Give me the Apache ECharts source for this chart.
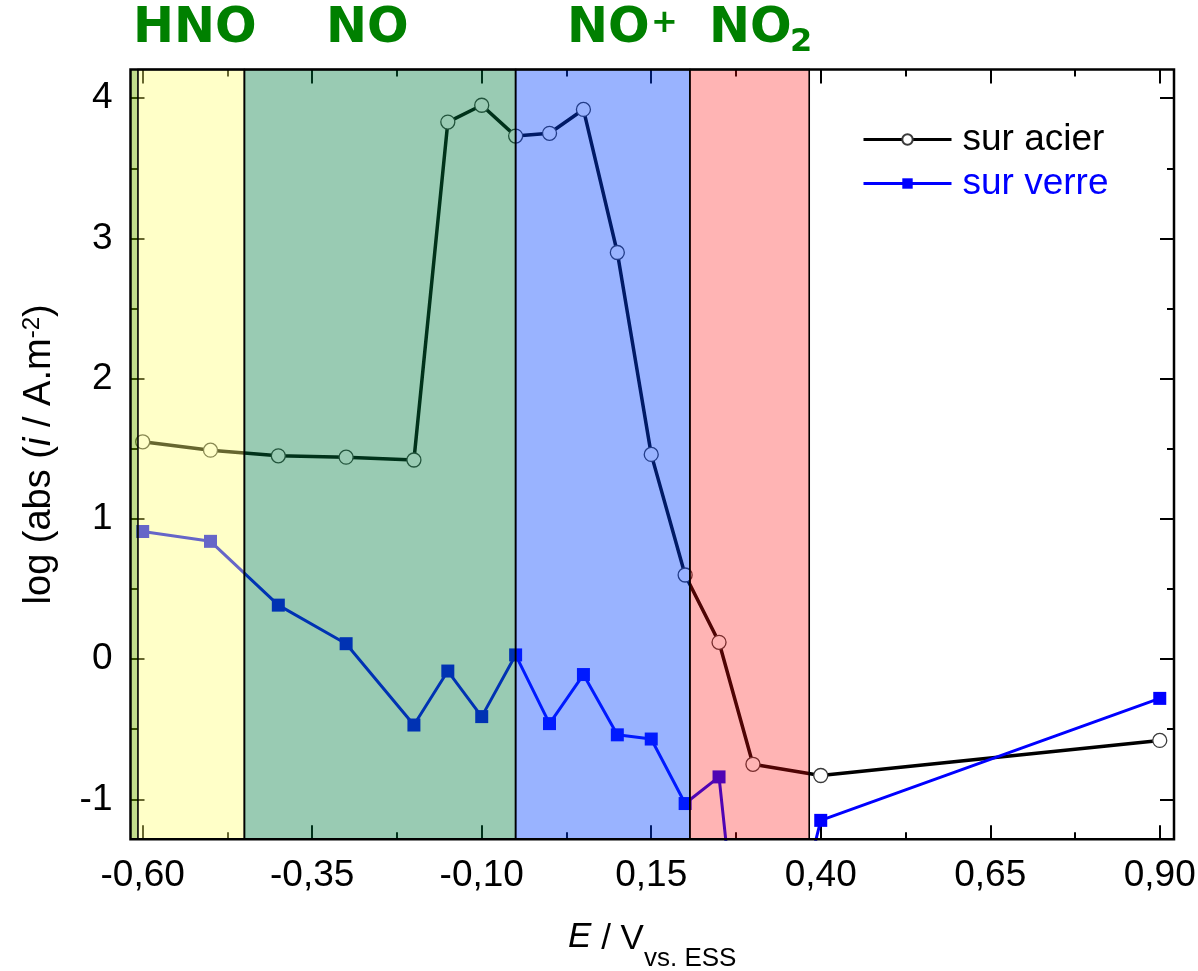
<!DOCTYPE html>
<html><head><meta charset="utf-8">
<script src="https://cdn.jsdelivr.net/npm/echarts@6/dist/echarts.min.js"></script>
<style>html,body{margin:0;padding:0;background:#fff}#c{width:1198px;height:971px}</style>
</head><body><div id="c"></div>
<script>
// ---- data ----
const potentials = [-0.60,-0.50,-0.40,-0.30,-0.20,-0.15,-0.10,-0.05,0.00,0.05,0.10,0.15,0.20,0.25,0.30,0.40,0.90];
const surAcier  = [1.55,1.49,1.45,1.44,1.42,3.83,3.95,3.73,3.75,3.92,2.90,1.46,0.60,0.12,-0.75,-0.83,-0.58];
const surVerre  = [0.91,0.84,0.385,0.11,-0.47,-0.085,-0.41,0.03,-0.46,-0.11,-0.54,-0.57,-1.03,-0.84,-3.1,-1.15,-0.28];
const xTicks = [-0.60,-0.35,-0.10,0.15,0.40,0.65,0.90];
const xMinorTicks = [-0.475,-0.225,0.025,0.275,0.525,0.775];
const yTicks = [-1,0,1,2,3,4];
const yMinorTicks = [-0.5,0.5,1.5,2.5,3.5];
const speciesZones = [[-0.607,-0.45],[-0.45,-0.05],[-0.05,0.207],[0.207,0.383]];
const overlapZone = [-0.618,-0.607];
const speciesText = ['HNO','NO','NO','NO'];
const speciesIndex = ['','','+','2'];
const seriesNames = ['sur acier','sur verre'];

// ---- chart ----
const FONT = '"Liberation Sans", Arial, sans-serif';
const BOLDFONT = '"DejaVu Sans", sans-serif';
const xMin = -0.618, xMax = 0.921, yMin = -1.285, yMax = 4.205;
const fmtX = v => v.toFixed(2).replace('.', ',');

function xAx(pos, ticks, len, withLabels) {
  const a = {
    type:'value', position:pos, min:xMin, max:xMax,
    axisLine:{show:false, onZero:false}, splitLine:{show:false},
    axisTick:{show:true, inside:true, length:len, customValues:ticks, lineStyle:{color:'#000', width:2}},
    axisLabel:{show:false}
  };
  if (withLabels) {
    a.axisLabel = {show:true, customValues:ticks, formatter:fmtX, fontSize:37, fontFamily:FONT, color:'#000', margin:18};
    a.name = '{it|E} / V{sub|vs. ESS}';
    a.nameLocation = 'middle';
    a.nameGap = 80;
    a.nameTextStyle = {fontFamily:FONT, fontSize:35, color:'#000', rich:{
      it:{fontFamily:FONT, fontSize:35, fontStyle:'italic', color:'#000', lineHeight:40, verticalAlign:'top'},
      sub:{fontFamily:FONT, fontSize:26, color:'#000', lineHeight:26, padding:[27,0,0,0], verticalAlign:'top'}
    }};
  }
  return a;
}
function yAx(pos, ticks, len, withLabels) {
  const a = {
    type:'value', position:pos, min:yMin, max:yMax,
    axisLine:{show:false, onZero:false}, splitLine:{show:false},
    axisTick:{show:true, inside:true, length:len, customValues:ticks, lineStyle:{color:'#000', width:2}},
    axisLabel:{show:false}
  };
  if (withLabels) {
    a.axisLabel = {show:true, customValues:ticks, formatter:v=>String(v), fontSize:37, fontFamily:FONT, color:'#000', margin:18};
    a.name = 'log (abs ({it|i} / A.m{sup|-2})';
    a.nameLocation = 'middle';
    a.nameRotate = 90;
    a.nameGap = 72;
    a.nameTextStyle = {fontFamily:FONT, fontSize:38, color:'#000', rich:{
      it:{fontFamily:FONT, fontSize:38, fontStyle:'italic', color:'#000'},
      sup:{fontFamily:FONT, fontSize:24, color:'#000', verticalAlign:'top', lineHeight:24}
    }};
  }
  return a;
}

const zoneFills = ['rgba(255,255,117,0.4)','rgba(0,125,65,0.4)','rgba(0,65,255,0.4)','rgba(255,13,13,0.31)'];
const zoneData = speciesZones.map((z,i)=>[
  {xAxis:z[0], itemStyle:{color:zoneFills[i], borderColor:'#000', borderWidth:1.6}},
  {xAxis:z[1]}
]);
zoneData.unshift([{xAxis:overlapZone[0], itemStyle:{color:'rgba(120,180,0,0.45)', borderWidth:0}},{xAxis:overlapZone[1]}]);

const titleLeft = [133, 326, 567, 709];
const idxPos = [null, null, {left:651, top:8, size:32}, {left:790, top:27, size:32}];
const titles = [];
speciesText.forEach((t,i)=>{
  titles.push({text:t, left:titleLeft[i], top:5, padding:0,
    textStyle:{fontFamily:BOLDFONT, fontWeight:'bold', fontSize:49, lineHeight:49, color:'#008000'}});
  if (speciesIndex[i]) {
    const p = idxPos[i];
    titles.push({text:speciesIndex[i], left:p.left, top:p.top, padding:0,
      textStyle:{fontFamily:BOLDFONT, fontWeight:'bold', fontSize:p.size, lineHeight:p.size, color:'#008000'}});
  }
});

const chart = echarts.init(document.getElementById('c'));
chart.setOption({
  animation:false,
  backgroundColor:'#fff',
  title: titles,
  grid:{left:130.5, right:24, top:69.5, bottom:131.7, outerBoundsMode:'none', containLabel:false,
        show:true, borderColor:'#000', borderWidth:2.5, z:20, backgroundColor:'transparent'},
  legend:{
    orient:'vertical', left:862, top:121, itemWidth:88, itemHeight:13, itemGap:7, padding:0,
    lineStyle:{width:3},
    data:[
      {name:seriesNames[0], textStyle:{color:'#000'}},
      {name:seriesNames[1], textStyle:{color:'#0000ff'}}
    ],
    textStyle:{fontFamily:FONT, fontSize:37, padding:[0,0,0,6]}
  },
  xAxis:[ xAx('bottom', xTicks, 14, true), xAx('bottom', xMinorTicks, 7, false),
          xAx('top', xTicks, 14, false), xAx('top', xMinorTicks, 7, false) ],
  yAxis:[ yAx('left', yTicks, 14, true), yAx('left', yMinorTicks, 7, false),
          yAx('right', yTicks, 14, false), yAx('right', yMinorTicks, 7, false) ],
  series:[
    { name:seriesNames[0], type:'line', xAxisIndex:0, yAxisIndex:0,
      data:potentials.map((x,i)=>[x, surAcier[i]]),
      symbol:'circle', symbolSize:14, showSymbol:true, showAllSymbol:true,
      lineStyle:{color:'#000', width:3.5}, itemStyle:{color:'#fff', borderColor:'#3a3a3a', borderWidth:1.3}, z:3 },
    { name:seriesNames[1], type:'line', xAxisIndex:0, yAxisIndex:0,
      data:potentials.map((x,i)=>[x, surVerre[i]]),
      symbol:'rect', symbolSize:13, showSymbol:true, showAllSymbol:true,
      lineStyle:{color:'#0000ff', width:3}, itemStyle:{color:'#0000ff'}, z:4 },
    { name:'zones', type:'line', xAxisIndex:0, yAxisIndex:0, data:[],
      markArea:{ z:10, silent:true, data:zoneData } }
  ]
});
</script>
</body></html>
